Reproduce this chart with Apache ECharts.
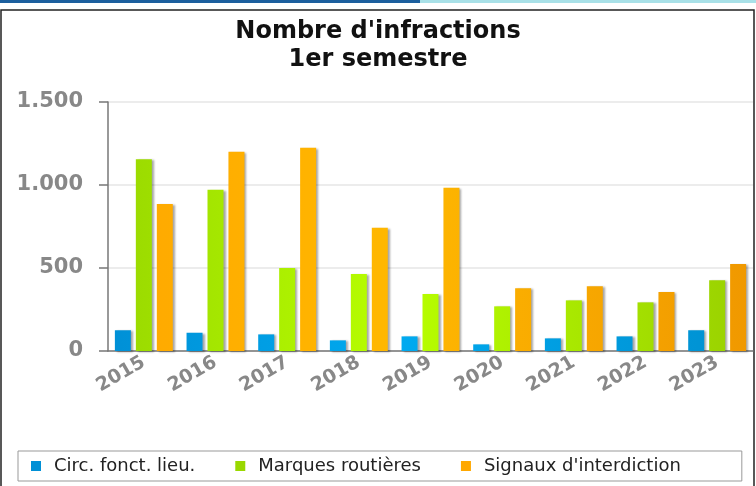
<!DOCTYPE html>
<html>
<head>
<meta charset="utf-8">
<script src="https://cdn.jsdelivr.net/npm/echarts@6/dist/echarts.min.js"></script>
<style>
  html, body { margin: 0; padding: 0; background: #fff; }
  #a { width: 756px; height: 486px; }
</style>
</head>
<body>
<div id="a"></div>
<script>
// donnees
var annees = ['2015', '2016', '2017', '2018', '2019', '2020', '2021', '2022', '2023'];
var circFonct = [125, 110, 100, 64, 88, 40, 76, 88, 125];
var marques = [1155, 972, 500, 464, 343, 269, 305, 293, 426];
var signaux = [885, 1200, 1225, 743, 984, 378, 390, 355, 524];
var yTicks = [0, 500, 1000, 1500];

var myechart = echarts.init(document.getElementById('a'));

// degrade horizontal sur toute la zone (plus clair au milieu)
function degrade(c1, c2, c3) {
    return new echarts.graphic.LinearGradient(108, 0, 753, 0, [
        { offset: 0, color: c1 },
        { offset: 0.45, color: c2 },
        { offset: 1, color: c3 }
    ], true);
}

var ombre = {
    shadowColor: 'rgba(0,0,0,0.35)',
    shadowBlur: 2,
    shadowOffsetX: 2,
    shadowOffsetY: 1
};

function style(c) {
    return Object.assign({ color: c }, ombre);
}

var police = 'DejaVu Sans';

option = {
    animation: false,
    backgroundColor: '#fff',
    title: {
        text: "Nombre d'infractions\n1er semestre",
        left: 'center',
        top: 13,
        textStyle: {
            fontFamily: police,
            fontSize: 24,
            fontWeight: 'bold',
            color: '#111',
            lineHeight: 28
        }
    },
    legend: {
        left: 18,
        top: 451,
        padding: [6, 61, 6, 13],
        itemGap: 40,
        itemWidth: 10,
        itemHeight: 10,
        icon: 'rect',
        borderColor: '#999',
        borderWidth: 1,
        textStyle: {
            fontFamily: police,
            fontSize: 18,
            color: '#222',
            padding: [0, 0, 0, 8]
        },
        data: ['Circ. fonct. lieu.', 'Marques routières', "Signaux d'interdiction"]
    },
    grid: {
        left: 108,
        right: 3,
        top: 102,
        bottom: 135
    },
    xAxis: {
        type: 'category',
        data: annees,
        axisLine: { lineStyle: { color: '#777', width: 1.5 } },
        axisTick: { length: 6, lineStyle: { color: '#777', width: 1.5 } },
        axisLabel: {
            rotate: 30,
            margin: 10,
            fontFamily: police,
            fontSize: 19,
            fontWeight: 'bold',
            color: '#888'
        }
    },
    yAxis: {
        type: 'value',
        min: yTicks[0],
        max: yTicks[yTicks.length - 1],
        interval: 500,
        axisLine: { show: true, lineStyle: { color: '#777', width: 1.5 } },
        axisTick: { show: true, length: 9, lineStyle: { color: '#777', width: 1.5 } },
        splitLine: { lineStyle: { color: '#e6e6e6', width: 1.5 } },
        axisLabel: {
            margin: 25,
            fontFamily: police,
            fontSize: 21,
            fontWeight: 'bold',
            color: '#888',
            formatter: function (v) {
                return String(v).replace(/\B(?=(\d{3})+(?!\d))/g, '.');
            }
        }
    },
    series: [
        {
            name: 'Circ. fonct. lieu.',
            type: 'bar',
            barWidth: 16,
            barGap: '31%',
            data: circFonct,
            itemStyle: style(degrade('#0090d6', '#00aaf0', '#0090d0'))
        },
        {
            name: 'Marques routières',
            type: 'bar',
            barWidth: 16,
            barGap: '31%',
            data: marques,
            itemStyle: style(degrade('#99d800', '#b8ff00', '#99d000'))
        },
        {
            name: "Signaux d'interdiction",
            type: 'bar',
            barWidth: 16,
            barGap: '31%',
            data: signaux,
            itemStyle: style(degrade('#ffa800', '#ffb800', '#f09800'))
        }
    ],
    graphic: [
        { type: 'rect', shape: { x: 0, y: 0, width: 420, height: 3 }, style: { fill: '#1c5f9e' } },
        { type: 'rect', shape: { x: 420, y: 0, width: 336, height: 3 }, style: { fill: '#a9e1e8' } },
        { type: 'rect', shape: { x: 1, y: 10, width: 753, height: 480 }, style: { fill: 'none', stroke: '#222', lineWidth: 1.5 }, silent: true }
    ]
};
myechart.setOption(option);
</script>
</body>
</html>
